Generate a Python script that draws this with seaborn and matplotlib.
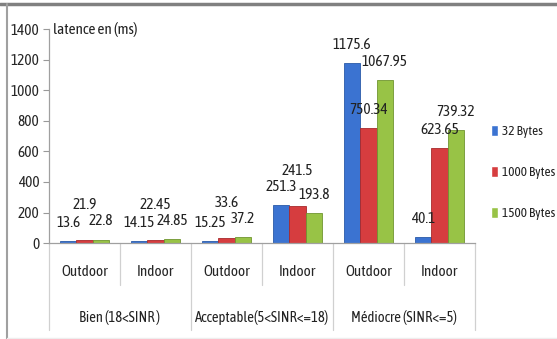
import matplotlib
matplotlib.use("Agg")
import matplotlib.pyplot as plt
from matplotlib.lines import Line2D
from matplotlib.transforms import blended_transform_factory
import numpy as np
import pandas as pd
import seaborn as sns

# Latency measurements (ms) per SINR class and environment
groups = ["Bien (18<SINR )", "Acceptable(5<SINR<=18)", "Médiocre (SINR<=5)"]
environments = ["Outdoor", "Indoor"]
series = ["32 Bytes", "1000 Bytes", "1500 Bytes"]
lat_32 = [13.6, 14.15, 15.25, 251.3, 1175.6, 40.1]
lat_1000 = [21.9, 22.45, 33.6, 241.5, 750.34, 623.65]
lat_1500 = [22.8, 24.85, 37.2, 193.8, 1067.95, 739.32]
y_ticks = [0, 200, 400, 600, 800, 1000, 1200, 1400]

colors = ["#3b73d1", "#d63d3f", "#98c346"]
edge_colors = ["#2a5aa8", "#a82a2c", "#6f9530"]

sns.set_theme(style="white")
plt.rcParams["font.family"] = ["Asap Condensed", "DejaVu Sans"]
plt.rcParams["text.color"] = "#222222"

cats = [f"{g}|{e}" for g in groups for e in environments]
values = {"32 Bytes": lat_32, "1000 Bytes": lat_1000, "1500 Bytes": lat_1500}
df = pd.DataFrame(
    [(c, s, v) for s in series for c, v in zip(cats, values[s])],
    columns=["cat", "series", "latency"],
)

fig = plt.figure(figsize=(5.57, 3.39), dpi=100)
ax = fig.add_axes([0.088, 0.283, 0.765, 0.631])

sns.barplot(
    data=df, x="cat", y="latency", hue="series", order=cats, hue_order=series,
    palette=colors, saturation=1, width=0.69, ax=ax, legend=True,
)
for cont, ec in zip(ax.containers, edge_colors):
    for bar in cont:
        bar.set_edgecolor(ec)
        bar.set_linewidth(0.6)

ax.set_ylim(0, 1400)
ax.set_xlim(-0.5, len(cats) - 0.5)
ax.set_yticks(y_ticks)
ax.set_yticklabels([str(t) for t in y_ticks], fontsize=11)
ax.tick_params(axis="y", which="both", left=True, length=4, width=0.8,
               color="#999999", pad=3)
ax.tick_params(axis="x", length=0, pad=16)
ax.set_xticks(range(len(cats)))
ax.set_xticklabels([c.split("|")[1] for c in cats], fontsize=11)
ax.set_xlabel("")
ax.set_ylabel("")
for side in ["top", "right"]:
    ax.spines[side].set_visible(False)
for side in ["left", "bottom"]:
    ax.spines[side].set_color("#a0a0a0")
    ax.spines[side].set_linewidth(0.9)

ax.text(0.01, 1400, "latence en (ms)", transform=ax.get_yaxis_transform(),
        ha="left", va="center", fontsize=11)

# Value labels above each bar; the middle label is lifted when it would
# collide with its neighbours
data_by_series = [lat_32, lat_1000, lat_1500]
for si, cont in enumerate(ax.containers):
    for ci, bar in enumerate(cont):
        v = data_by_series[si][ci]
        lift = 8
        if si == 1:
            gap = min(abs(v - lat_32[ci]), abs(v - lat_1500[ci]))
            if gap < 80:
                lift = 20
        ax.annotate(f"{v:g}", (bar.get_x() + bar.get_width() / 2, v),
                    xytext=(0, lift), textcoords="offset points",
                    ha="center", va="bottom", fontsize=11)

# Two-level category axis: separators and group labels
trans = blended_transform_factory(ax.transData, ax.transAxes)
for b in np.arange(-0.5, len(cats), 1.0):
    major = int(round(b + 0.5)) % 2 == 0
    ax.plot([b, b], [0, -0.407 if major else -0.196], transform=trans,
            color="#d0d0d0", lw=0.9, clip_on=False)
for gi, g in enumerate(groups):
    ax.text(2 * gi + 0.5, -0.35, g, transform=trans, ha="center",
            va="center", fontsize=10.5)

leg = ax.legend(
    loc="center left", bbox_to_anchor=(1.025, 0.33), frameon=False,
    fontsize=9.5, labelspacing=2.1, handlelength=0.55, handleheight=0.9,
    handletextpad=0.3, borderaxespad=0.0,
)

# Window frame along the top and left edges
fig.add_artist(Line2D([0, 1], [0.988, 0.988], transform=fig.transFigure,
                      color="#808080", lw=2.5))
fig.add_artist(Line2D([0.013, 0.013], [0, 0.988], transform=fig.transFigure,
                      color="#a0a0a0", lw=1.5))
fig.add_artist(Line2D([0.013, 1], [0.003, 0.003], transform=fig.transFigure,
                      color="#eeeeee", lw=1.0))

fig.savefig("out.png", dpi=100, facecolor="white")
